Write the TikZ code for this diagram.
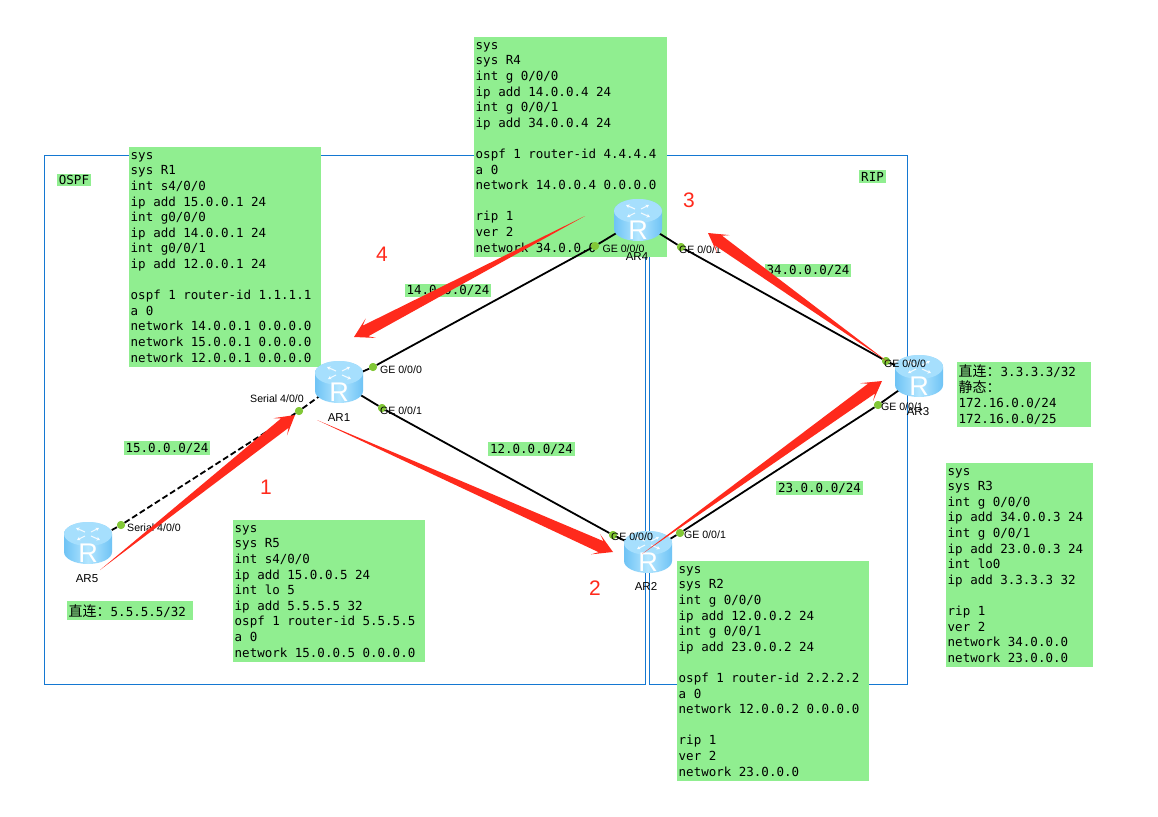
\documentclass[tikz,border=0pt]{standalone}
\usepackage{fontspec}
\setmainfont{Liberation Sans}
\newfontfamily\cfgfont{DejaVu Sans Mono}
\newfontfamily\cjkfont{Noto Sans CJK SC}
\usetikzlibrary{calc,arrows.meta}
\definecolor{cfggreen}{HTML}{90EE90}
\definecolor{framecol}{HTML}{1478D2}
\definecolor{portcol}{HTML}{82C837}
\definecolor{flowred}{HTML}{FF2A1C}
\definecolor{routerlight}{HTML}{B4E6FF}
\definecolor{routeredge}{HTML}{6EC3F5}
\tikzset{
  x=1pt,y=-1pt,
  areaframe/.style={draw=framecol,line width=0.9pt},
  cfgbox/.style={fill=cfggreen,anchor=north west,inner xsep=1.5pt,inner ysep=0pt,align=flush left,
    font=\cfgfont\fontsize{12.5}{15.6}\selectfont},
  nettag/.style={fill=cfggreen,inner xsep=2pt,inner ysep=1.5pt,
    font=\cfgfont\fontsize{12.5}{14}\selectfont},
  portdot/.style={circle,fill=portcol,inner sep=0pt,minimum size=8pt},
  portname/.style={inner sep=0pt,font=\fontsize{10.6}{12}\selectfont},
  routername/.style={inner sep=0pt,font=\fontsize{11.5}{13}\selectfont},
  stepnum/.style={inner sep=0pt,text=flowred,font=\fontsize{21}{24}\selectfont},
  link/.style={draw=black,line width=1.8pt},
  seriallink/.style={link,dash pattern=on 6pt off 3pt},
  topglyph/.style={draw=white,opacity=.85,line width=1.1pt,-{Stealth[length=3.5pt,width=4pt]}}
}
% Cylinder router icon with its crossed arrows and letter
\newcommand{\routericon}[2]{%
  \begin{scope}[shift={(#1)}]
    \shade[left color=routeredge,right color=routeredge,middle color=routerlight]
      (-24,-9) -- (-24,9) arc[start angle=180,end angle=360,x radius=24pt,y radius=12pt]
      -- (24,-9) arc[start angle=0,end angle=180,x radius=24pt,y radius=12pt] -- cycle;
    \fill[color=routerlight!80!routeredge] (0,-9) ellipse[x radius=24pt,y radius=12pt];
    \draw[topglyph] (-3,-11) -- (-12,-15);
    \draw[topglyph] (3,-7) -- (12,-3);
    \draw[topglyph] (3,-11) -- (11,-15);
    \draw[topglyph] (-3,-7) -- (-11,-3);
    \node[inner sep=0pt,text=white,font=\fontsize{27}{30}\selectfont] (#2) at (0,10) {R};
  \end{scope}}
% Red flow arrow that widens from a point to a swept-back head
\newcommand{\flowarrow}[2]{%
  \fill[flowred]
    (#1)
    -- ($(#2)!13pt!(#1)!6pt!90:(#2)$)
    -- ($(#2)!19pt!(#1)!11pt!90:(#2)$)
    -- (#2)
    -- ($(#2)!19pt!(#1)!11pt!-90:(#2)$)
    -- ($(#2)!13pt!(#1)!6pt!-90:(#2)$)
    -- cycle;}
\begin{document}
\begin{tikzpicture}
\useasboundingbox[fill=white] (0,0) rectangle (1158,816);

% Routing domains
\draw[areaframe] (44,155) rectangle (645,684);
\draw[areaframe] (649,155) rectangle (907,684);

% Configuration listings
\node[cfgbox,text width=190pt,minimum height=220pt] (cfgfour) at (474,37) {sys\\sys R4\\int g 0/0/0\\ip add 14.0.0.4 24\\int g 0/0/1\\ip add 34.0.0.4 24\\\strut\\ospf 1 router-id 4.4.4.4\\a 0\\network 14.0.0.4 0.0.0.0\\\strut\\rip 1\\ver 2\\network 34.0.0.0};
\node[cfgbox,text width=189pt,minimum height=220pt] (cfgone) at (129,147) {sys\\sys R1\\int s4/0/0\\ip add 15.0.0.1 24\\int g0/0/0\\ip add 14.0.0.1 24\\int g0/0/1\\ip add 12.0.0.1 24\\\strut\\ospf 1 router-id 1.1.1.1\\a 0\\network 14.0.0.1 0.0.0.0\\network 15.0.0.1 0.0.0.0\\network 12.0.0.1 0.0.0.0};
\node[cfgbox,text width=189pt,minimum height=142pt] (cfgfive) at (233,520) {sys\\sys R5\\int s4/0/0\\ip add 15.0.0.5 24\\int lo 5\\ip add 5.5.5.5 32\\ospf 1 router-id 5.5.5.5\\a 0\\network 15.0.0.5 0.0.0.0};
\node[cfgbox,text width=189pt,minimum height=220pt] (cfgtwo) at (677,561) {sys\\sys R2\\int g 0/0/0\\ip add 12.0.0.2 24\\int g 0/0/1\\ip add 23.0.0.2 24\\\strut\\ospf 1 router-id 2.2.2.2\\a 0\\network 12.0.0.2 0.0.0.0\\\strut\\rip 1\\ver 2\\network 23.0.0.0};
\node[cfgbox,text width=144pt,minimum height=204pt] (cfgthree) at (946,463) {sys\\sys R3\\int g 0/0/0\\ip add 34.0.0.3 24\\int g 0/0/1\\ip add 23.0.0.3 24\\int lo0\\ip add 3.3.3.3 32\\\strut\\rip 1\\ver 2\\network 34.0.0.0\\network 23.0.0.0};
\node[cfgbox,text width=131pt,minimum height=65pt] (staticnote) at (957,362) {{\cjkfont\fontsize{14}{15.6}\selectfont 直连：}3.3.3.3/32\\{\cjkfont\fontsize{14}{15.6}\selectfont 静态：}\\172.16.0.0/24\\172.16.0.0/25};
\node[cfgbox,text width=123pt,minimum height=19pt] (loopnote) at (67,601) {{\cjkfont\fontsize{14}{15.6}\selectfont 直连：}5.5.5.5/32};

% Domain and subnet tags
\node[nettag] (ospftag) at (74,180) {OSPF};
\node[nettag] (riptag) at (872.5,176.5) {RIP};
\node[nettag] (netfourteen) at (448,290.5) {14.0.0.0/24};
\node[nettag] (netthirtyfour) at (808,270.5) {34.0.0.0/24};
\node[nettag] (nettwelve) at (531.5,449) {12.0.0.0/24};
\node[nettag] (nettwentythree) at (819.5,488) {23.0.0.0/24};
\node[nettag] (netfifteen) at (167,448) {15.0.0.0/24};

% Anchors for the router icons
\coordinate (rone) at (339,382);
\coordinate (rtwo) at (648,552);
\coordinate (rthree) at (919,376);
\coordinate (rfour) at (638,220);
\coordinate (rfive) at (88,543);

% Interface dots
\node[portdot] (pa) at (373,367) {};
\node[portdot] (pb) at (382,408) {};
\node[portdot] (ps) at (299,411) {};
\node[portdot] (fs) at (121,525) {};
\node[portdot] (da) at (595,246) {};
\node[portdot] (db) at (681,247) {};
\node[portdot] (ca) at (886,361) {};
\node[portdot] (cb) at (878,405) {};
\node[portdot] (ba) at (613,535) {};
\node[portdot] (bb) at (680,533) {};

% Links between routers
\draw[link] (rone) -- (pa) -- (da) -- (rfour);
\draw[link] (rone) -- (pb) -- (ba) -- (rtwo);
\draw[link] (rfour) -- (db) -- (ca) -- (rthree);
\draw[link] (rtwo) -- (bb) -- (cb) -- (rthree);
\draw[seriallink] (rfive) -- (fs) -- (ps) -- (rone);

% Routers
\routericon{rone}{iconone}
\routericon{rtwo}{icontwo}
\routericon{rthree}{iconthree}
\routericon{rfour}{iconfour}
\routericon{rfive}{iconfive}

\node[portdot] at (pa) {};
\node[portdot] at (pb) {};
\node[portdot] at (ps) {};
\node[portdot] at (fs) {};
\node[portdot] at (da) {};
\node[portdot] at (db) {};
\node[portdot] at (ca) {};
\node[portdot] at (cb) {};
\node[portdot] at (ba) {};
\node[portdot] at (bb) {};

% Interface and router labels
\node[portname] (la) at (401,369.5) {GE 0/0/0};
\node[portname] (lb) at (401,410.5) {GE 0/0/1};
\node[portname] (ls) at (277,399) {Serial 4/0/0};
\node[portname] (lf) at (154,528) {Serial 4/0/0};
\node[portname] (lda) at (623.5,249) {GE 0/0/0};
\node[portname] (ldb) at (700,250) {GE 0/0/1};
\node[portname] (lca) at (905,364) {GE 0/0/0};
\node[portname] (lcb) at (902,407) {GE 0/0/1};
\node[portname] (lba) at (632,537) {GE 0/0/0};
\node[portname] (lbb) at (705,535) {GE 0/0/1};

\node[routername] (nameone) at (339,418) {AR1};
\node[routername] (nametwo) at (646,586) {AR2};
\node[routername] (namethree) at (918,412) {AR3};
\node[routername] (namefour) at (637,256.5) {AR4};
\node[routername] (namefive) at (87,579) {AR5};

% Traffic flow
\coordinate (fa) at (100,570);
\coordinate (fb) at (295,415);
\coordinate (fc) at (317,420);
\coordinate (fd) at (613,552);
\coordinate (fe) at (642,554);
\coordinate (ff) at (882,381);
\coordinate (fg) at (888,362);
\coordinate (fh) at (708,233);
\coordinate (fi) at (585,216);
\coordinate (fj) at (354,337);
\flowarrow{fa}{fb}
\flowarrow{fc}{fd}
\flowarrow{fe}{ff}
\flowarrow{fg}{fh}
\flowarrow{fi}{fj}

\node[stepnum] (stepone) at (266,487) {1};
\node[stepnum] (steptwo) at (595,588) {2};
\node[stepnum] (stepthree) at (689,200) {3};
\node[stepnum] (stepfour) at (382,254) {4};
\end{tikzpicture}
\end{document}
